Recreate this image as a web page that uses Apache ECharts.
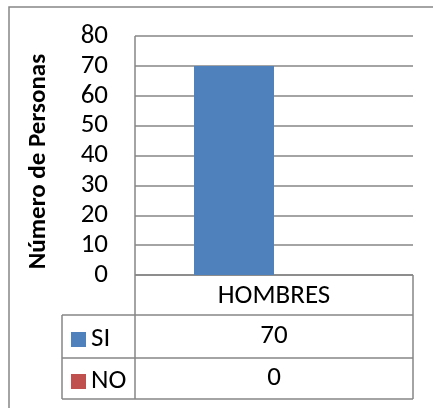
<!DOCTYPE html>
<html>
<head>
<meta charset="utf-8">
<script src="https://cdn.jsdelivr.net/npm/echarts@6/dist/echarts.min.js"></script>
<style>
  html, body { margin: 0; padding: 0; background: #fff; }
  #chart { width: 433px; height: 408px; }
</style>
</head>
<body>
<div id="chart"></div>
<script>
// datos
const categorias = ['HOMBRES'];
const seriesNombres = ['SI', 'NO'];
const valoresSI = [70];
const valoresNO = [0];
const yTicks = [0, 80, 10]; // min, max, intervalo

const FONT = 'Carlito, Lato, sans-serif';
const FS = 27;
const lineColor = '#868686';

// geometria de la tabla de datos (debajo del eje x)
const plotL = 135, plotR = 413, plotT = 36, plotB = 275;
const tabL = 62, rowH = [40, 43, 41];

const rowY = [plotB];
rowH.forEach(function (h, i) { rowY.push(rowY[i] + h); });

let graphics = [];
// marco exterior
graphics.push({
    type: 'rect', shape: { x: 9, y: 7, width: 500, height: 500 },
    style: { fill: 'none', stroke: lineColor, lineWidth: 1.5 }, silent: true
});
// lineas horizontales de la tabla
graphics.push({ type: 'line', shape: { x1: plotL, y1: rowY[0], x2: plotR, y2: rowY[0] }, style: { stroke: lineColor, lineWidth: 1.5 } });
for (let i = 1; i < rowY.length; i++) {
    graphics.push({ type: 'line', shape: { x1: tabL, y1: rowY[i], x2: plotR, y2: rowY[i] }, style: { stroke: lineColor, lineWidth: 1.5 } });
}
// lineas verticales
graphics.push({ type: 'line', shape: { x1: tabL, y1: rowY[1], x2: tabL, y2: rowY[3] }, style: { stroke: lineColor, lineWidth: 1.5 } });
graphics.push({ type: 'line', shape: { x1: plotL, y1: plotT, x2: plotL, y2: rowY[3] }, style: { stroke: lineColor, lineWidth: 1.5 } });
graphics.push({ type: 'line', shape: { x1: plotR, y1: rowY[0], x2: plotR, y2: rowY[3] }, style: { stroke: lineColor, lineWidth: 1.5 } });

// valores en la tabla
const tablaValores = [valoresSI, valoresNO];
tablaValores.forEach(function (vals, i) {
    graphics.push({
        type: 'text',
        x: (plotL + plotR) / 2,
        y: (rowY[i + 1] + rowY[i + 2]) / 2,
        style: {
            text: String(vals[0]), fill: '#000', font: FS + 'px ' + FONT,
            textAlign: 'center', textVerticalAlign: 'middle'
        }
    });
});

let option = {
    animation: false,
    color: ['#4F81BD', '#C0504D'],
    textStyle: { fontFamily: FONT },
    grid: { left: plotL, right: 433 - plotR, top: plotT, bottom: 408 - plotB },
    legend: {
        data: seriesNombres,
        orient: 'vertical',
        left: 66, top: 321,
        icon: 'rect', itemWidth: 15, itemHeight: 15,
        itemGap: 15,
        textStyle: { fontSize: FS, color: '#000', fontFamily: FONT }
    },
    xAxis: [
        {
            type: 'category',
            data: categorias,
            axisLine: { show: false },
            axisTick: { show: false },
            axisLabel: { fontSize: FS, color: '#000', margin: 8, fontFamily: FONT }
        }
    ],
    yAxis: [
        {
            type: 'value',
            min: yTicks[0], max: yTicks[1], interval: yTicks[2],
            name: 'Número de Personas',
            nameLocation: 'middle',
            nameGap: 84,
            nameTextStyle: { fontSize: 25, fontWeight: 'bold', color: '#000', fontFamily: FONT, padding: [0, 12, 0, 0] },
            axisLine: { show: false },
            axisTick: { show: false },
            axisLabel: { fontSize: FS, color: '#000', margin: 27, fontFamily: FONT },
            splitLine: { lineStyle: { color: lineColor, width: 1.5 } }
        }
    ],
    series: [
        { name: seriesNombres[0], type: 'bar', data: valoresSI, barWidth: 80, barGap: '0%' },
        { name: seriesNombres[1], type: 'bar', data: valoresNO, barWidth: 80, barGap: '0%' }
    ],
    graphic: graphics
};

echarts.init(document.getElementById('chart')).setOption(option);
</script>
</body>
</html>
